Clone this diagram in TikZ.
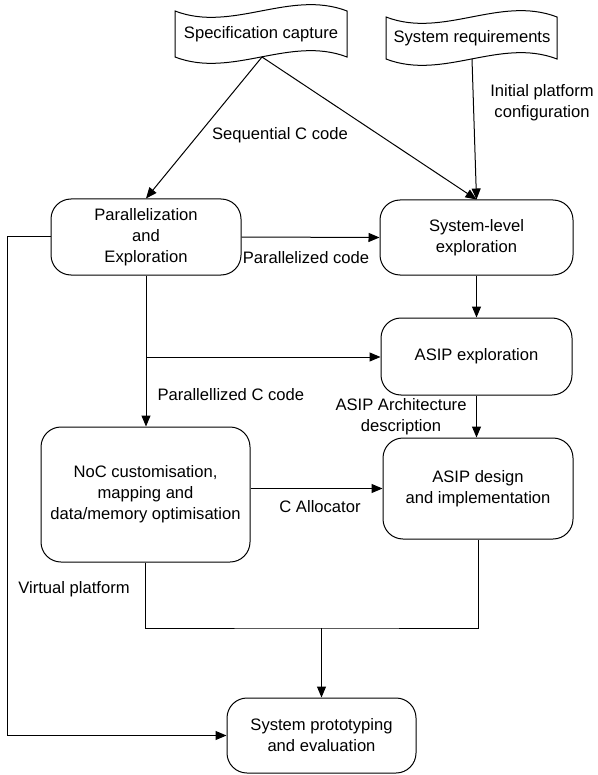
\documentclass[tikz,border=0pt]{standalone}
\usepackage{fontspec}
\setmainfont{Liberation Sans}
\usetikzlibrary{arrows.meta}
\begin{document}
\begin{tikzpicture}[x=1pt,y=-1pt, line width=1pt,
  every node/.style={font=\fontsize{16.6}{21}\selectfont},
  box/.style={draw, rounded corners=20pt, align=center, inner sep=0pt},
  lbl/.style={align=center, inner sep=0pt},
  arr/.style={-{Triangle[length=11pt,width=9pt]}},
]
\useasboundingbox (0,0) rectangle (597,775);

% tape shapes
\draw (175,11) .. controls (232,33) and (290,-11) .. (347,11) -- (347,57)
  .. controls (290,35) and (232,79) .. (175,57) -- cycle;
\draw (386,17) .. controls (443,39) and (500,-5) .. (557,17) -- (557,59)
  .. controls (500,37) and (443,81) .. (386,59) -- cycle;
\node[lbl] (spec) at (261,34) {Specification capture};
\node[lbl] (sreq) at (472,38) {System requirements};
\coordinate (specb) at (262,57);
\coordinate (sreqb) at (472,59);

% boxes
\node[box, minimum width=190pt, minimum height=76pt] (par) at (146,237) {Parallelization\\and\\Exploration};
\node[box, minimum width=193pt, minimum height=75pt] (sle) at (476.5,237.5) {System-level\\exploration};
\node[box, minimum width=191pt, minimum height=77pt] (asipx) at (476.5,356.5) {ASIP exploration};
\node[box, minimum width=209pt, minimum height=135pt] (noc) at (145.5,494.5) {NoC customisation,\\mapping and\\data/memory optimisation};
\node[box, minimum width=190pt, minimum height=101pt] (asipd) at (478,488.5) {ASIP design\\and implementation};
\node[box, minimum width=189pt, minimum height=75pt] (proto) at (321.5,735.5) {System prototyping\\and evaluation};

% labels
\node[lbl] (lseq) at (280,135) {Sequential C code};
\node[lbl] (linit) at (542,103) {Initial platform\\configuration};
\node[lbl] (lpc) at (306,258) {Parallelized code};
\node[lbl, anchor=west] (lpcc) at (157,395) {Parallellized C code};
\node[lbl] (larch) at (401,416.5) {ASIP Architecture\\description};
\node[lbl] (lalloc) at (320,507) {C Allocator};
\node[lbl] (lvp) at (74,589) {Virtual platform};

% connectors
\draw[arr] (specb) -- (par.north);
\draw[arr] (specb) -- (sle.north);
\draw[arr] (sreqb) -- (sle.north);
\draw[arr] (par.east) -- (sle.west);
\draw[arr] (par.south) -- (par.south |- noc.north);
\coordinate (br) at (146,357);
\draw[arr] (br) -- (br -| asipx.west);
\draw[arr] (sle.south) -- (asipx.north);
\draw[arr] (asipx.south) -- (asipx.south |- asipd.north);
\draw[arr] (noc.east |- asipd.west) -- (asipd.west);
\coordinate (mg) at (321.5,628);
\draw (noc.south) |- (mg) -| (asipd.south);
\draw[arr] (mg) -- (proto.north);
\coordinate (lft) at (7,237);
\draw[arr] (par.west) -- (lft) |- (proto.west);
\end{tikzpicture}
\end{document}
